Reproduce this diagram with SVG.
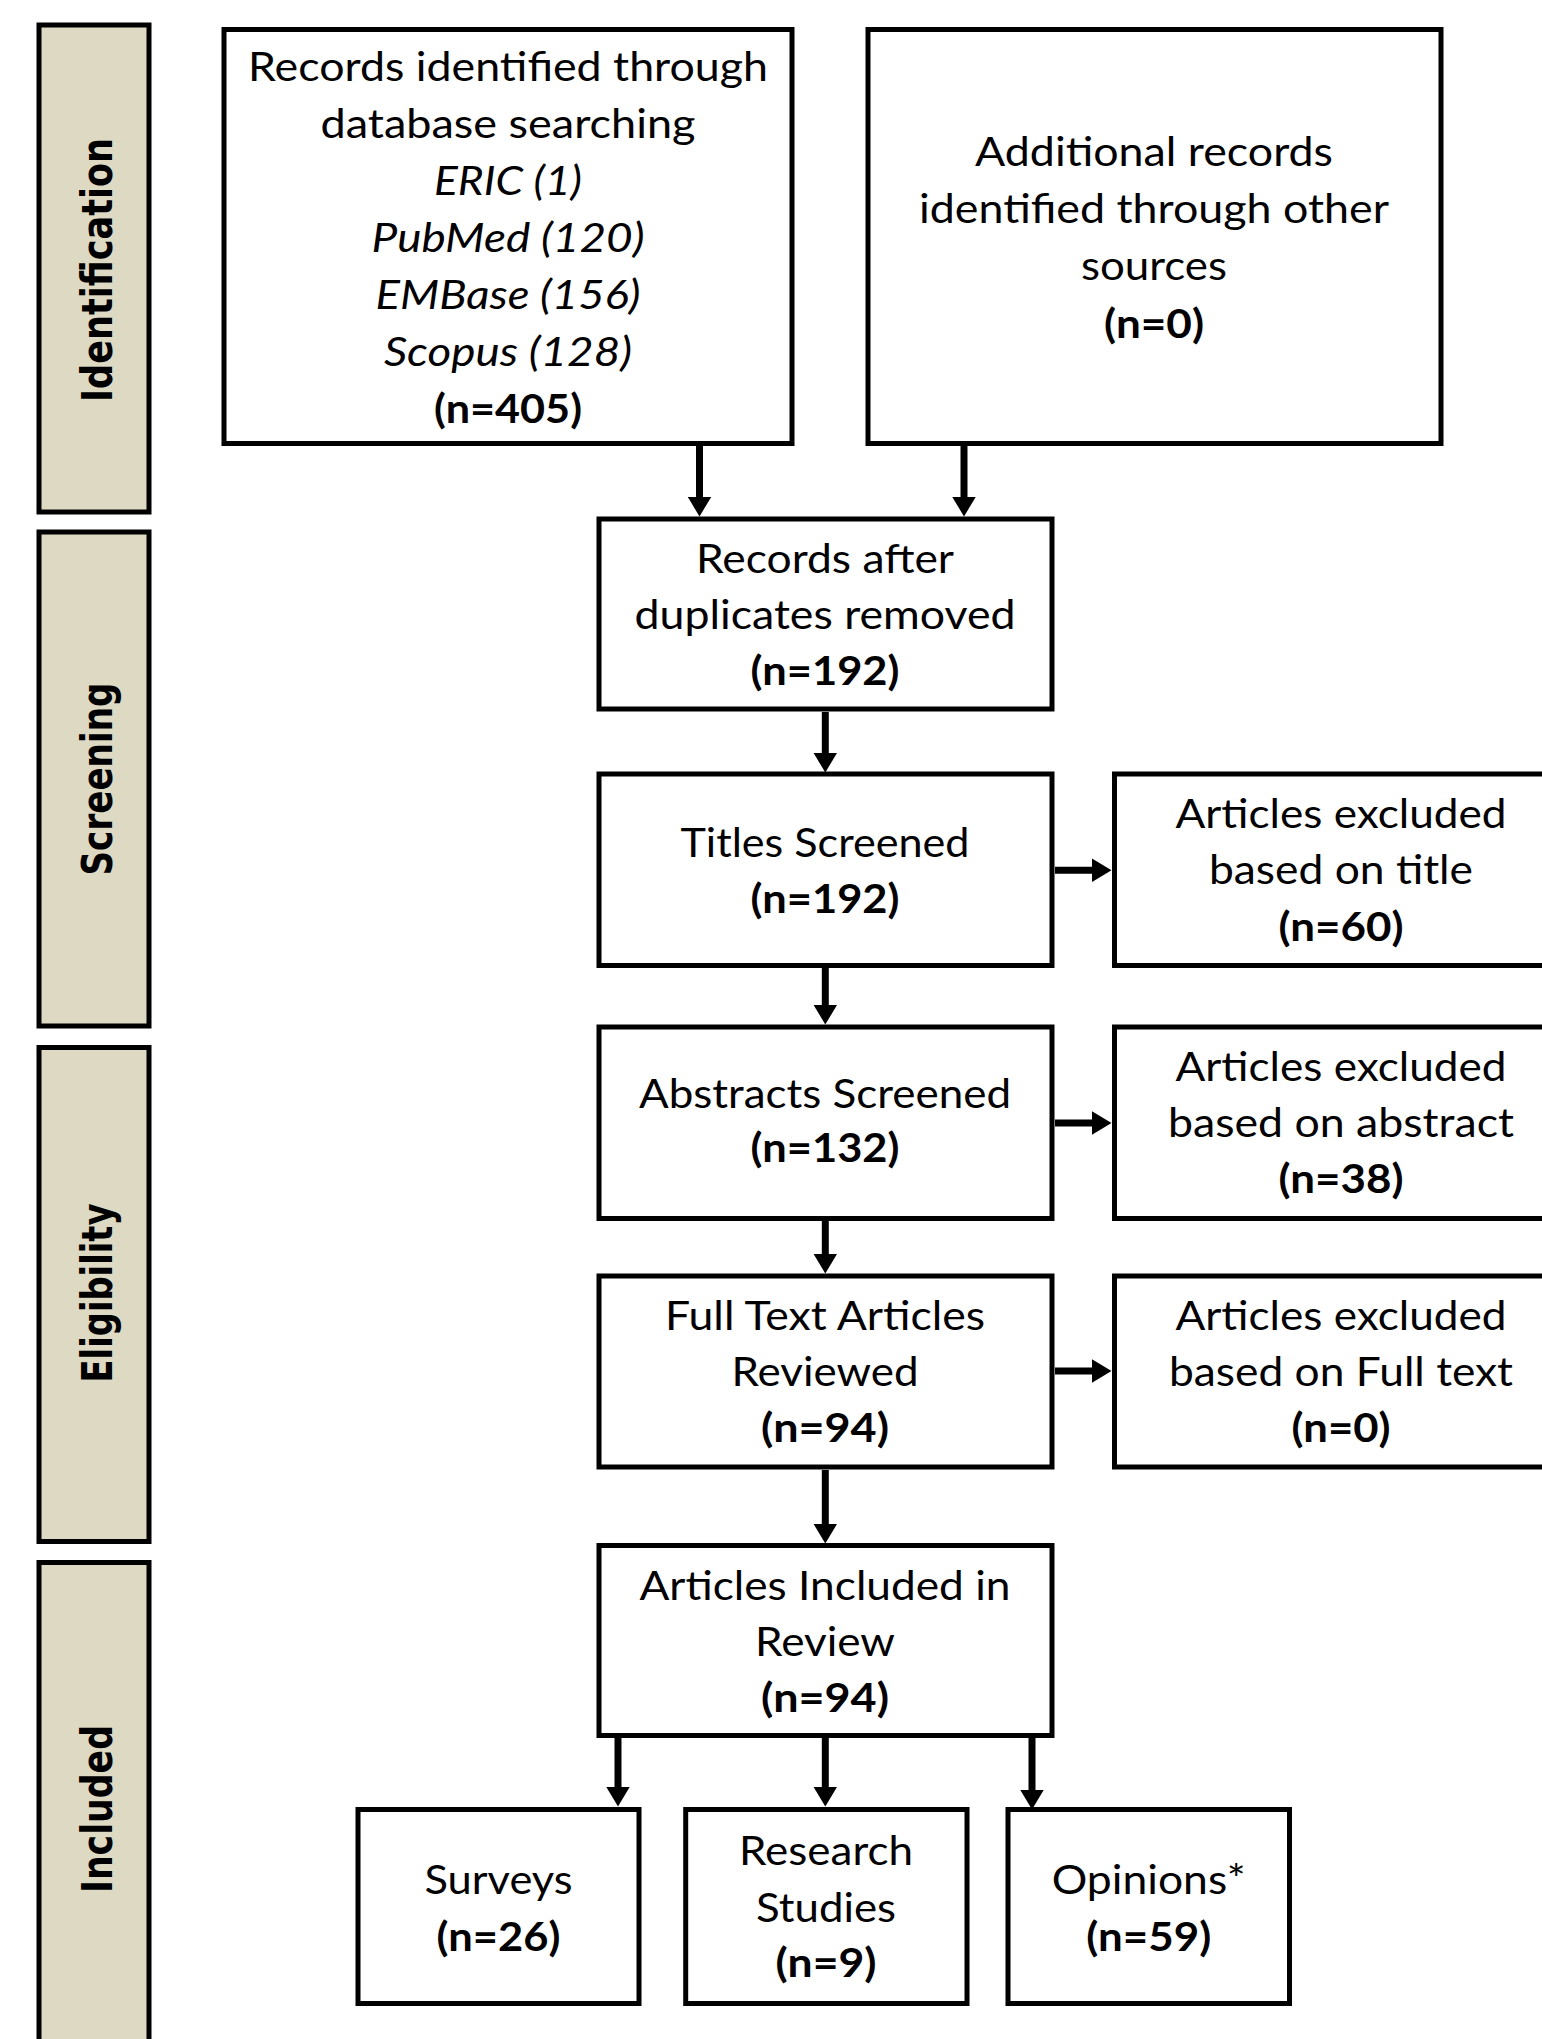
<svg xmlns="http://www.w3.org/2000/svg" width="1542" height="2039" viewBox="0 0 1542 2039">
<defs>
<style>
.stage{fill:#ddd9c3;stroke:#000;stroke-width:5}
.box{fill:#fff;stroke:#000;stroke-width:5}
.lbl{font-family:"DejaVu Sans",sans-serif;font-weight:bold;font-size:43px;fill:#000;text-anchor:middle}
.t{font-family:Lato,"Open Sans",sans-serif;font-size:40px;fill:#000;text-anchor:middle}
.b{font-weight:bold}
.i{font-style:italic}
.arr{stroke:#000;stroke-width:7;fill:none;marker-end:url(#ah)}
</style>
<marker id="ah" viewBox="0 0 20 24" refX="0.5" refY="12" markerWidth="20" markerHeight="24" markerUnits="userSpaceOnUse" orient="auto">
<path d="M0,0 L20,12 L0,24 Z" fill="#000"/>
</marker>
</defs>
<rect width="1542" height="2039" fill="#fff"/>

<g id="stage-identification">
<rect class="stage" x="39" y="25" width="110" height="487"/>
<text class="lbl" transform="translate(112,270) rotate(-90)" textLength="264" lengthAdjust="spacingAndGlyphs">Identification</text>
</g>
<g id="stage-screening">
<rect class="stage" x="39" y="532" width="110" height="494"/>
<text class="lbl" transform="translate(112,779) rotate(-90)" textLength="193" lengthAdjust="spacingAndGlyphs">Screening</text>
</g>
<g id="stage-eligibility">
<rect class="stage" x="39" y="1047.5" width="110" height="494"/>
<text class="lbl" transform="translate(112,1293) rotate(-90)" textLength="179" lengthAdjust="spacingAndGlyphs">Eligibility</text>
</g>
<g id="stage-included">
<rect class="stage" x="39" y="1562.5" width="110" height="500"/>
<text class="lbl" transform="translate(112,1809) rotate(-90)" textLength="168" lengthAdjust="spacingAndGlyphs">Included</text>
</g>

<g id="connectors">
<line class="arr" x1="699.5" y1="446" x2="699.5" y2="497"/>
<line class="arr" x1="964" y1="446" x2="964" y2="497"/>
<line class="arr" x1="825.3" y1="712" x2="825.3" y2="753"/>
<line class="arr" x1="825.3" y1="968" x2="825.3" y2="1005"/>
<line class="arr" x1="825.3" y1="1221" x2="825.3" y2="1254"/>
<line class="arr" x1="825.3" y1="1470" x2="825.3" y2="1524"/>
<line class="arr" x1="618" y1="1738" x2="618" y2="1787"/>
<line class="arr" x1="825.3" y1="1738" x2="825.3" y2="1787"/>
<line class="arr" x1="1032" y1="1738" x2="1032" y2="1790"/>
<line class="arr" x1="1055" y1="870.3" x2="1092" y2="870.3"/>
<line class="arr" x1="1055" y1="1123" x2="1092" y2="1123"/>
<line class="arr" x1="1055" y1="1371" x2="1092" y2="1371"/>
</g>

<g id="records-database">
<rect class="box" x="224" y="29.5" width="568" height="414"/>
<text class="t" x="508" y="81" textLength="520" lengthAdjust="spacingAndGlyphs">Records identified through</text>
<text class="t" x="508" y="138" textLength="375" lengthAdjust="spacingAndGlyphs">database searching</text>
<text class="t i" x="508" y="195" textLength="148" lengthAdjust="spacingAndGlyphs">ERIC (1)</text>
<text class="t i" x="508" y="252" textLength="273" lengthAdjust="spacingAndGlyphs">PubMed (120)</text>
<text class="t i" x="508" y="309" textLength="265" lengthAdjust="spacingAndGlyphs">EMBase (156)</text>
<text class="t i" x="508" y="366" textLength="248" lengthAdjust="spacingAndGlyphs">Scopus (128)</text>
<text class="t b" x="508" y="423" textLength="148" lengthAdjust="spacingAndGlyphs">(n=405)</text>
</g>

<g id="records-other">
<rect class="box" x="868" y="29.5" width="573" height="414"/>
<text class="t" x="1154" y="166" textLength="358" lengthAdjust="spacingAndGlyphs">Additional records</text>
<text class="t" x="1154" y="223" textLength="470" lengthAdjust="spacingAndGlyphs">identified through other</text>
<text class="t" x="1154" y="280" textLength="146" lengthAdjust="spacingAndGlyphs">sources</text>
<text class="t b" x="1154" y="338" textLength="100" lengthAdjust="spacingAndGlyphs">(n=0)</text>
</g>

<g id="duplicates-removed">
<rect class="box" x="599" y="519" width="453" height="190"/>
<text class="t" x="825" y="573" textLength="258" lengthAdjust="spacingAndGlyphs">Records after</text>
<text class="t" x="825" y="629" textLength="381" lengthAdjust="spacingAndGlyphs">duplicates removed</text>
<text class="t b" x="825" y="685" textLength="149" lengthAdjust="spacingAndGlyphs">(n=192)</text>
</g>

<g id="titles-screened">
<rect class="box" x="599" y="774" width="453" height="191.5"/>
<text class="t" x="825" y="857" textLength="289" lengthAdjust="spacingAndGlyphs">Titles Screened</text>
<text class="t b" x="825" y="913" textLength="149" lengthAdjust="spacingAndGlyphs">(n=192)</text>
</g>

<g id="excluded-title">
<rect class="box" x="1114.5" y="774" width="455" height="191.5"/>
<text class="t" x="1341" y="828" textLength="331" lengthAdjust="spacingAndGlyphs">Articles excluded</text>
<text class="t" x="1341" y="884" textLength="264" lengthAdjust="spacingAndGlyphs">based on title</text>
<text class="t b" x="1341" y="941" textLength="125" lengthAdjust="spacingAndGlyphs">(n=60)</text>
</g>

<g id="abstracts-screened">
<rect class="box" x="599" y="1027" width="453" height="191.5"/>
<text class="t" x="825" y="1108" textLength="372" lengthAdjust="spacingAndGlyphs">Abstracts Screened</text>
<text class="t b" x="825" y="1162" textLength="149" lengthAdjust="spacingAndGlyphs">(n=132)</text>
</g>

<g id="excluded-abstract">
<rect class="box" x="1114.5" y="1027" width="455" height="191.5"/>
<text class="t" x="1341" y="1081" textLength="331" lengthAdjust="spacingAndGlyphs">Articles excluded</text>
<text class="t" x="1341" y="1137" textLength="346" lengthAdjust="spacingAndGlyphs">based on abstract</text>
<text class="t b" x="1341" y="1193" textLength="125" lengthAdjust="spacingAndGlyphs">(n=38)</text>
</g>

<g id="full-text-reviewed">
<rect class="box" x="599" y="1276" width="453" height="191"/>
<text class="t" x="825" y="1330" textLength="320" lengthAdjust="spacingAndGlyphs">Full Text Articles</text>
<text class="t" x="825" y="1386" textLength="187" lengthAdjust="spacingAndGlyphs">Reviewed</text>
<text class="t b" x="825" y="1442" textLength="128" lengthAdjust="spacingAndGlyphs">(n=94)</text>
</g>

<g id="excluded-full-text">
<rect class="box" x="1114.5" y="1276" width="455" height="191"/>
<text class="t" x="1341" y="1330" textLength="331" lengthAdjust="spacingAndGlyphs">Articles excluded</text>
<text class="t" x="1341" y="1386" textLength="344" lengthAdjust="spacingAndGlyphs">based on Full text</text>
<text class="t b" x="1341" y="1442" textLength="99" lengthAdjust="spacingAndGlyphs">(n=0)</text>
</g>

<g id="included-review">
<rect class="box" x="599" y="1545.5" width="453" height="190"/>
<text class="t" x="825" y="1600" textLength="371" lengthAdjust="spacingAndGlyphs">Articles Included in</text>
<text class="t" x="825" y="1656" textLength="140" lengthAdjust="spacingAndGlyphs">Review</text>
<text class="t b" x="825" y="1712" textLength="128" lengthAdjust="spacingAndGlyphs">(n=94)</text>
</g>

<g id="surveys">
<rect class="box" x="358" y="1809.5" width="281" height="194"/>
<text class="t" x="498.5" y="1893.5" textLength="148" lengthAdjust="spacingAndGlyphs">Surveys</text>
<text class="t b" x="498.5" y="1950.5" textLength="124" lengthAdjust="spacingAndGlyphs">(n=26)</text>
</g>

<g id="research-studies">
<rect class="box" x="685.7" y="1809.5" width="281.3" height="194"/>
<text class="t" x="826" y="1865" textLength="174" lengthAdjust="spacingAndGlyphs">Research</text>
<text class="t" x="826" y="1922" textLength="140" lengthAdjust="spacingAndGlyphs">Studies</text>
<text class="t b" x="826" y="1977" textLength="101" lengthAdjust="spacingAndGlyphs">(n=9)</text>
</g>

<g id="opinions">
<rect class="box" x="1008" y="1809.5" width="281.5" height="194"/>
<text class="t" x="1148.7" y="1893.5" textLength="194" lengthAdjust="spacingAndGlyphs">Opinions*</text>
<text class="t b" x="1148.7" y="1950.5" textLength="125" lengthAdjust="spacingAndGlyphs">(n=59)</text>
</g>
</svg>
